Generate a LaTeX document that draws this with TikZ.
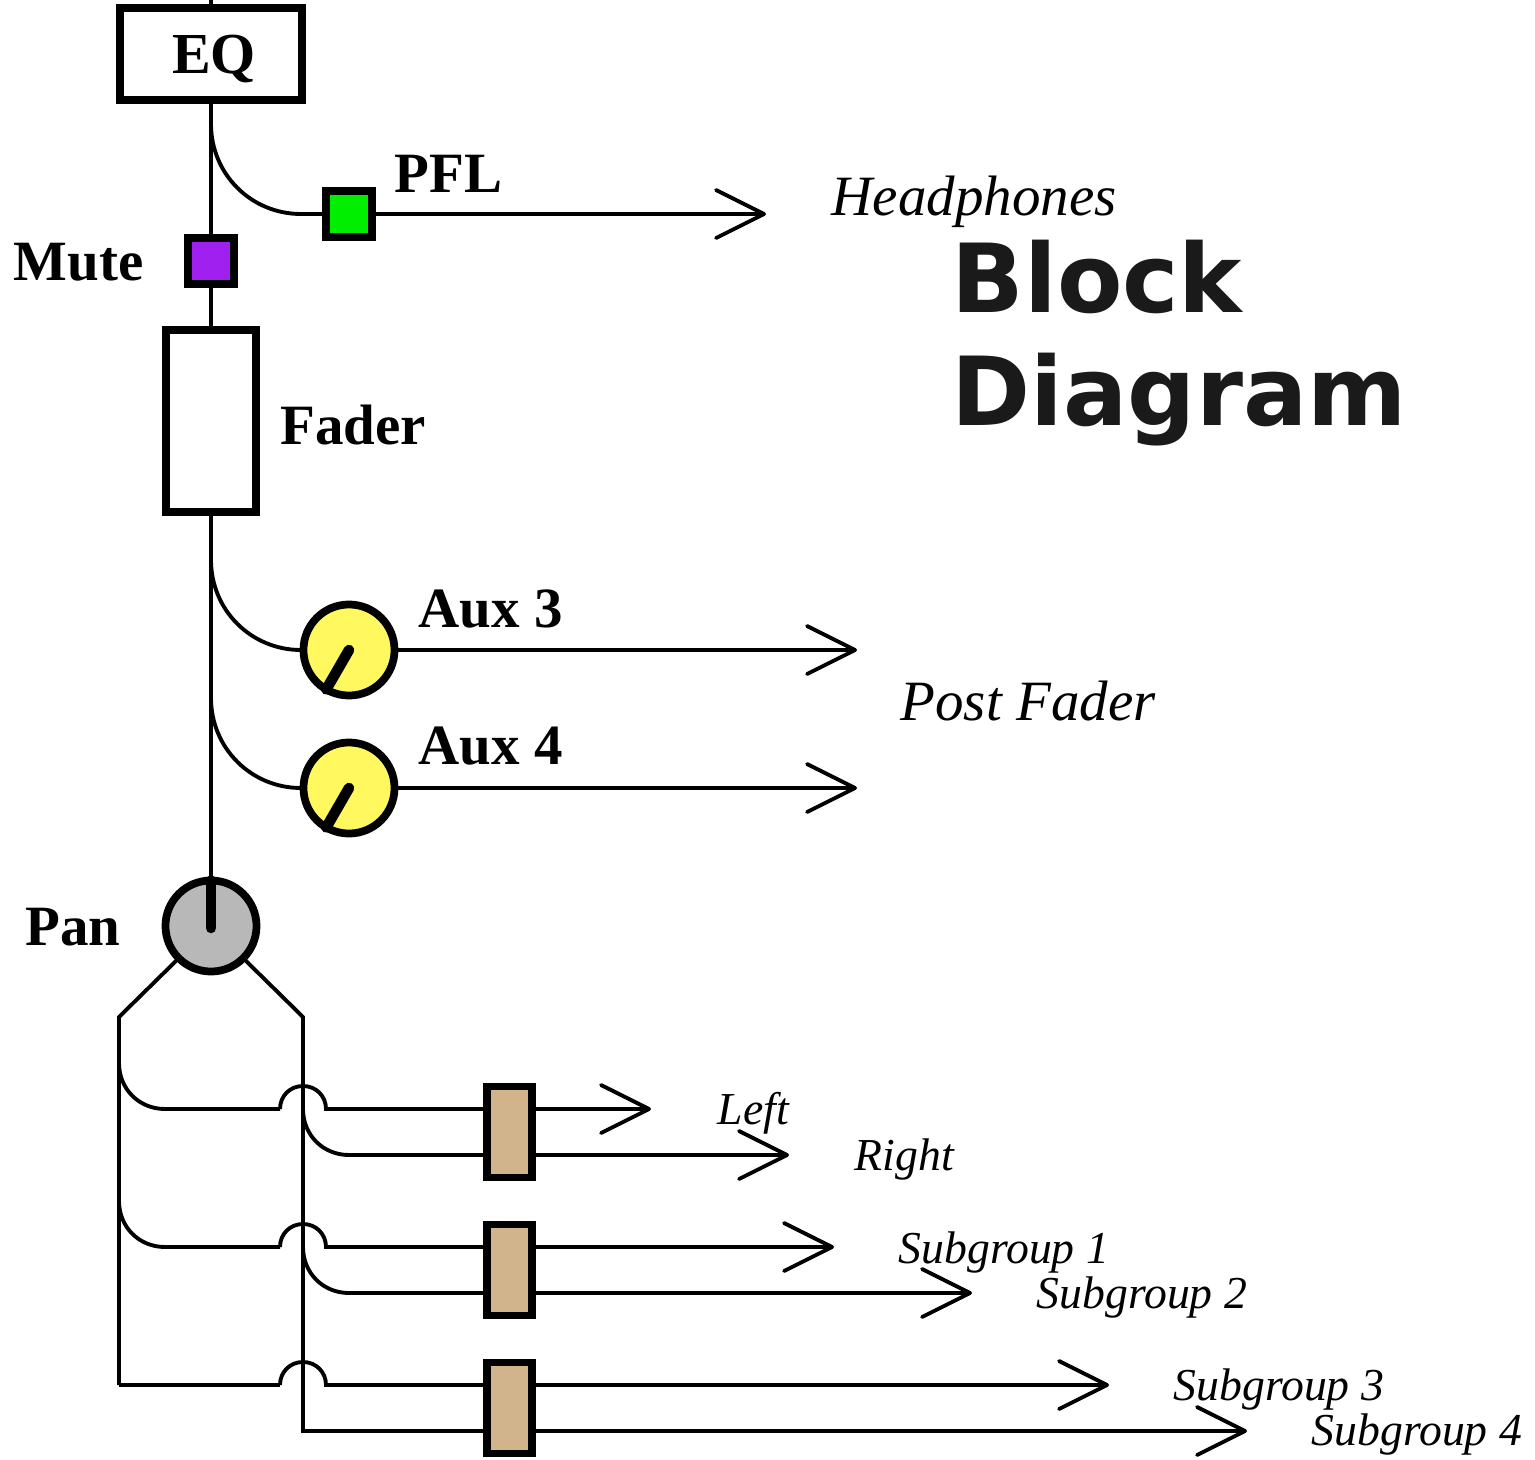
\documentclass[tikz,border=0pt]{standalone}
\usepackage{fontspec}
\setmainfont{Liberation Serif}
\newfontfamily\titlefam{DejaVu Sans}
\usetikzlibrary{calc,arrows.meta}
\definecolor{muteviolet}{HTML}{A020F0}
\definecolor{pflgreen}{HTML}{00EE00}
\definecolor{knobyellow}{HTML}{FFF95F}
\definecolor{pangray}{HTML}{B8B8B8}
\definecolor{routetan}{HTML}{D2B48C}
\definecolor{titleink}{HTML}{1A1A1A}

\begin{document}
\begin{tikzpicture}[x=0.01cm,y=-0.01cm,
    wire/.style={line width=1.1pt},
    tipwire/.style={wire,-{Straight Barb[length=4.8mm,width=4.8mm,round]}},
    block/.style={draw,line width=2.2pt,inner sep=0pt,outer sep=0pt},
    knob/.style={block,circle,minimum size=0.91cm,fill=knobyellow},
    pointer/.style={line width=3pt,line cap=round},
    route/.style={block,fill=routetan,minimum width=0.45cm,minimum height=0.91cm},
    boldtext/.style={font=\fontsize{16.2}{19}\selectfont\bfseries,inner sep=0pt,anchor=base west},
    slanttext/.style={font=\fontsize{16.2}{19}\selectfont\itshape,inner sep=0pt,anchor=base west},
    smalltext/.style={font=\fontsize{13}{16}\selectfont\itshape,inner sep=0pt,anchor=base west},
    titletext/.style={font=\fontsize{27.1}{32}\selectfont\titlefam\bfseries,text=titleink,inner sep=0pt,anchor=base west}]
  \useasboundingbox (0,0) rectangle (1535,1460);
  % channel strip blocks
  \node[block,minimum width=1.82cm,minimum height=0.92cm,text height=11pt,text depth=0pt,font=\fontsize{16.5}{19}\selectfont\bfseries] (eqbox) at (211,54) {\hspace*{1.7pt}EQ};
  \node[block,fill=muteviolet,minimum size=0.46cm] (mutebox) at (211,261) {};
  \node[block,fill=pflgreen,minimum size=0.46cm] (pflbox) at (349,214) {};
  \node[block,minimum width=0.90cm,minimum height=1.82cm] (faderbox) at (211,421) {};
  \node[knob] (auxthree) at (349,650) {};
  \node[knob] (auxfour) at (349,788) {};
  \node[knob,fill=pangray] (panknob) at (211,926) {};
  \foreach \n/\y in {1/1132,2/1270,3/1408}{
    \node[route] (route\n) at (509.5,\y) {};
  }
  % free ends and tap points
  \coordinate (chanin) at (211,0);
  \coordinate (pflend) at (766,214);
  \coordinate (auxthreeend) at (857,650);
  \coordinate (auxfourend) at (857,788);
  \coordinate (leftbus) at (119,1017);
  \coordinate (rightbus) at (303,1017);
  \coordinate (hopthree) at (119,1385);
  \coordinate (subfour) at (303,1431);
  % main signal path
  \draw[wire] (chanin) -- (eqbox);
  \draw[wire] (eqbox) -- (mutebox);
  \draw[wire] (mutebox) -- (faderbox);
  \draw[wire] (faderbox) -- (panknob);
  % sends
  \draw[wire] (211,124) .. controls +(0,50) and +(-50,0) .. (301,214) -- (pflbox);
  \draw[tipwire] (pflbox) -- (pflend);
  \draw[wire] (211,560) .. controls +(0,50) and +(-50,0) .. (301,650) -- (auxthree);
  \draw[tipwire] (auxthree) -- (auxthreeend);
  \draw[wire] (211,698) .. controls +(0,50) and +(-50,0) .. (301,788) -- (auxfour);
  \draw[tipwire] (auxfour) -- (auxfourend);
  \draw[pointer] (auxthree.center) -- (auxthree.240);
  \draw[pointer] (auxfour.center) -- (auxfour.240);
  \draw[pointer] (panknob.north) -- ($(panknob.center)+(0,2)$);
  % pan outputs
  \draw[wire] (panknob.225) -- (leftbus) -- (hopthree);
  \draw[wire] (panknob.-45) -- (rightbus) -- (subfour) -- (subfour -| route3.west);
  \draw[tipwire] (subfour -| route3.east) -- (1247,1431);
  % hops over the right bus
  \foreach \n/\y/\e in {1/1109/651,2/1247/834,3/1385/1109}{
    \draw[wire] (280,\y) .. controls +(0,-13) and +(-13,0) .. (303,\y-23) .. controls +(13,0) and +(0,-13) .. (326,\y) -- (route\n.west |- 0,\y);
    \draw[tipwire] (route\n.east |- 0,\y) -- (\e,\y);
  }
  \draw[wire] (119,1063) .. controls +(0,26) and +(-26,0) .. (165,1109) -- (280,1109);
  \draw[wire] (119,1201) .. controls +(0,26) and +(-26,0) .. (165,1247) -- (280,1247);
  \draw[wire] (hopthree) -- (280,1385);
  \draw[wire] (303,1109) .. controls +(0,26) and +(-26,0) .. (349,1155) -- (route1.west |- 0,1155);
  \draw[tipwire] (route1.east |- 0,1155) -- (789,1155);
  \draw[wire] (303,1247) .. controls +(0,26) and +(-26,0) .. (349,1293) -- (route2.west |- 0,1293);
  \draw[tipwire] (route2.east |- 0,1293) -- (972,1293);
  % labels
  \node[boldtext] (pfllabel) at (394,192) {PFL};
  \node[boldtext] (mutelabel) at (13,280) {Mute};
  \node[boldtext] (faderlabel) at (280,444) {Fader};
  \node[boldtext] (auxthreelabel) at (418,627) {Aux 3};
  \node[boldtext] (auxfourlabel) at (418,764) {Aux 4};
  \node[boldtext] (panlabel) at (25,945) {Pan};
  \node[slanttext] (phoneslabel) at (831,215) {Headphones};
  \node[slanttext] (postlabel) at (900,720) {Post Fader};
  \node[smalltext] (leftlabel) at (717,1124) {Left};
  \node[smalltext] (rightlabel) at (854,1170) {Right};
  \node[smalltext] (subonelabel) at (898,1263) {Subgroup 1};
  \node[smalltext] (subtwolabel) at (1036,1308) {Subgroup 2};
  \node[smalltext] (subthreelabel) at (1173,1400) {Subgroup 3};
  \node[smalltext] (subfourlabel) at (1311,1445) {Subgroup 4};
  \node[titletext] (titleone) at (951,312) {Block};
  \node[titletext] (titletwo) at (951,425) {Diagram};
\end{tikzpicture}
\end{document}
